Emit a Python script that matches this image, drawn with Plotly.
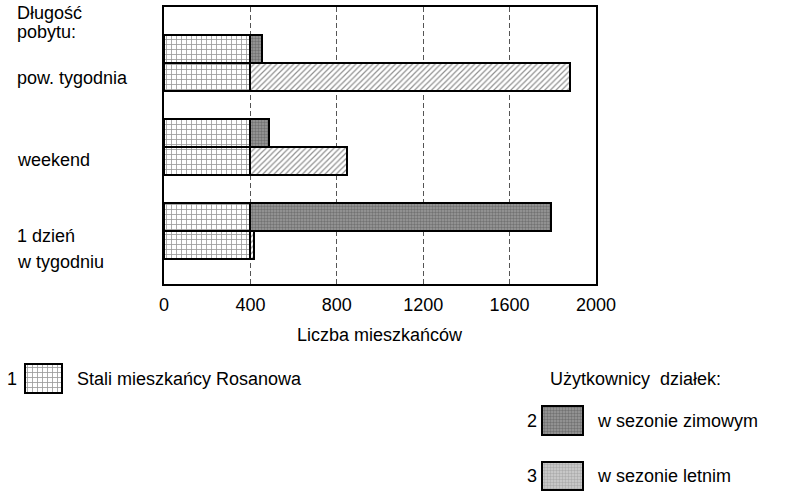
import plotly.graph_objects as go
import numpy as np

# data (liczba mieszkańców)
categories = ["pow. tygodnia", "weekend", "1 dzień<br>w tygodniu"]
residents = [400, 400, 400]     # 1 Stali mieszkańcy Rosanowa
winter = [55, 85, 1390]         # 2 użytkownicy działek - w sezonie zimowym
summer = [1480, 445, 18]        # 3 użytkownicy działek - w sezonie letnim
xticks = [0, 400, 800, 1200, 1600, 2000]

W, H = 787, 491
FONT = "Liberation Sans, Arial, sans-serif"
FS = 18

def px(x):
    return x / W

def py(y):
    return 1 - y / H

idx = np.arange(len(categories))
y_top = 1.75 + 3 * idx      # winter bar rows
y_bot = y_top + 1           # summer bar rows

outline = dict(color="black", width=2)
pat_res = dict(shape="+", fgcolor="#333", bgcolor="white", size=5, solidity=0.3)
pat_win = dict(shape=".", fgcolor="#4a4a4a", bgcolor="#9a9a9a", size=3, solidity=0.5)
pat_sum = dict(shape="/", fgcolor="#222", bgcolor="white", size=4, solidity=0.3)
pat_leg3 = dict(shape=".", fgcolor="#888", bgcolor="#d0d0d0", size=3, solidity=0.5)

fig = go.Figure()
fig.add_trace(go.Bar(y=np.concatenate([y_top, y_bot]), x=residents + residents,
                     orientation="h", width=1,
                     marker=dict(color="white", line=outline, pattern=pat_res)))
fig.add_trace(go.Bar(y=y_top, x=winter, orientation="h", width=1,
                     marker=dict(color="#9a9a9a", line=outline, pattern=pat_win)))
fig.add_trace(go.Bar(y=y_bot, x=summer, orientation="h", width=1,
                     marker=dict(color="white", line=outline, pattern=pat_sum)))

# legend swatches on a pixel-sized axis pair below the chart
LEG_TOP = 355
swatches = [  # x0, x1, y0, y1 in px, pattern
    (25, 62, 364, 393, pat_res),
    (542, 583, 406, 435, pat_win),
    (542, 583, 462, 490, pat_leg3),
]
for x0, x1, y0, y1, pat in swatches:
    fig.add_trace(go.Bar(x=[x1 - x0], base=[x0], y=[(y0 + y1) / 2], width=[y1 - y0],
                         orientation="h", xaxis="x2", yaxis="y2",
                         marker=dict(color=pat["bgcolor"], line=dict(color="black", width=1.5),
                                     pattern=pat)))

ann = []
def txt(x, y, s, xanchor="left"):
    if xanchor == "left":
        x -= 3
    ann.append(dict(x=px(x), y=py(y), xref="paper", yref="paper",
                    text=s, showarrow=False, xanchor=xanchor, yanchor="middle",
                    font=dict(family=FONT, size=FS, color="black")))

txt(18, 13, "Długość")
txt(18, 32, "pobytu:")
label_y = [[78], [160], [236, 262]]
for c, ys in zip(categories, label_y):
    for line, y in zip(c.split("<br>"), ys):
        txt(18, y, line)
txt(380, 335, "Liczba mieszkańców", xanchor="center")
txt(8, 379, "1")
txt(78, 379, "Stali mieszkańcy Rosanowa")
txt(551, 379, "Użytkownicy&nbsp; działek:")
txt(528, 421, "2")
txt(598, 421, "w sezonie zimowym")
txt(528, 476, "3")
txt(598, 476, "w sezonie letnim")

fig.update_layout(
    width=W, height=H, margin=dict(l=0, r=0, t=0, b=0, autoexpand=False),
    paper_bgcolor="white", plot_bgcolor="rgba(0,0,0,0)",
    barmode="stack", showlegend=False,
    font=dict(family=FONT, size=FS, color="black"),
    annotations=ann,
    xaxis=dict(domain=[px(164), px(596)], range=[0, 2000], tickvals=xticks,
               showgrid=True, gridcolor="#555", griddash="5px,3px", gridwidth=1,
               zeroline=False, showline=True, mirror=True, linecolor="black", linewidth=1.5,
               ticks="", ticklabelstandoff=4, tickfont=dict(size=FS)),
    yaxis=dict(domain=[py(284), py(7)], range=[10.14, 0.25],
               showticklabels=False, showgrid=False, zeroline=False,
               showline=True, mirror=True, linecolor="black", linewidth=1.5),
    xaxis2=dict(domain=[0, 1], range=[0, W], visible=False, anchor="y2"),
    yaxis2=dict(domain=[0, py(LEG_TOP)], range=[H, LEG_TOP], visible=False, anchor="x2"),
)

fig.write_html("out.html", config={"displayModeBar": False},
               post_script="document.body.style.margin='0';document.body.style.overflow='hidden';")
